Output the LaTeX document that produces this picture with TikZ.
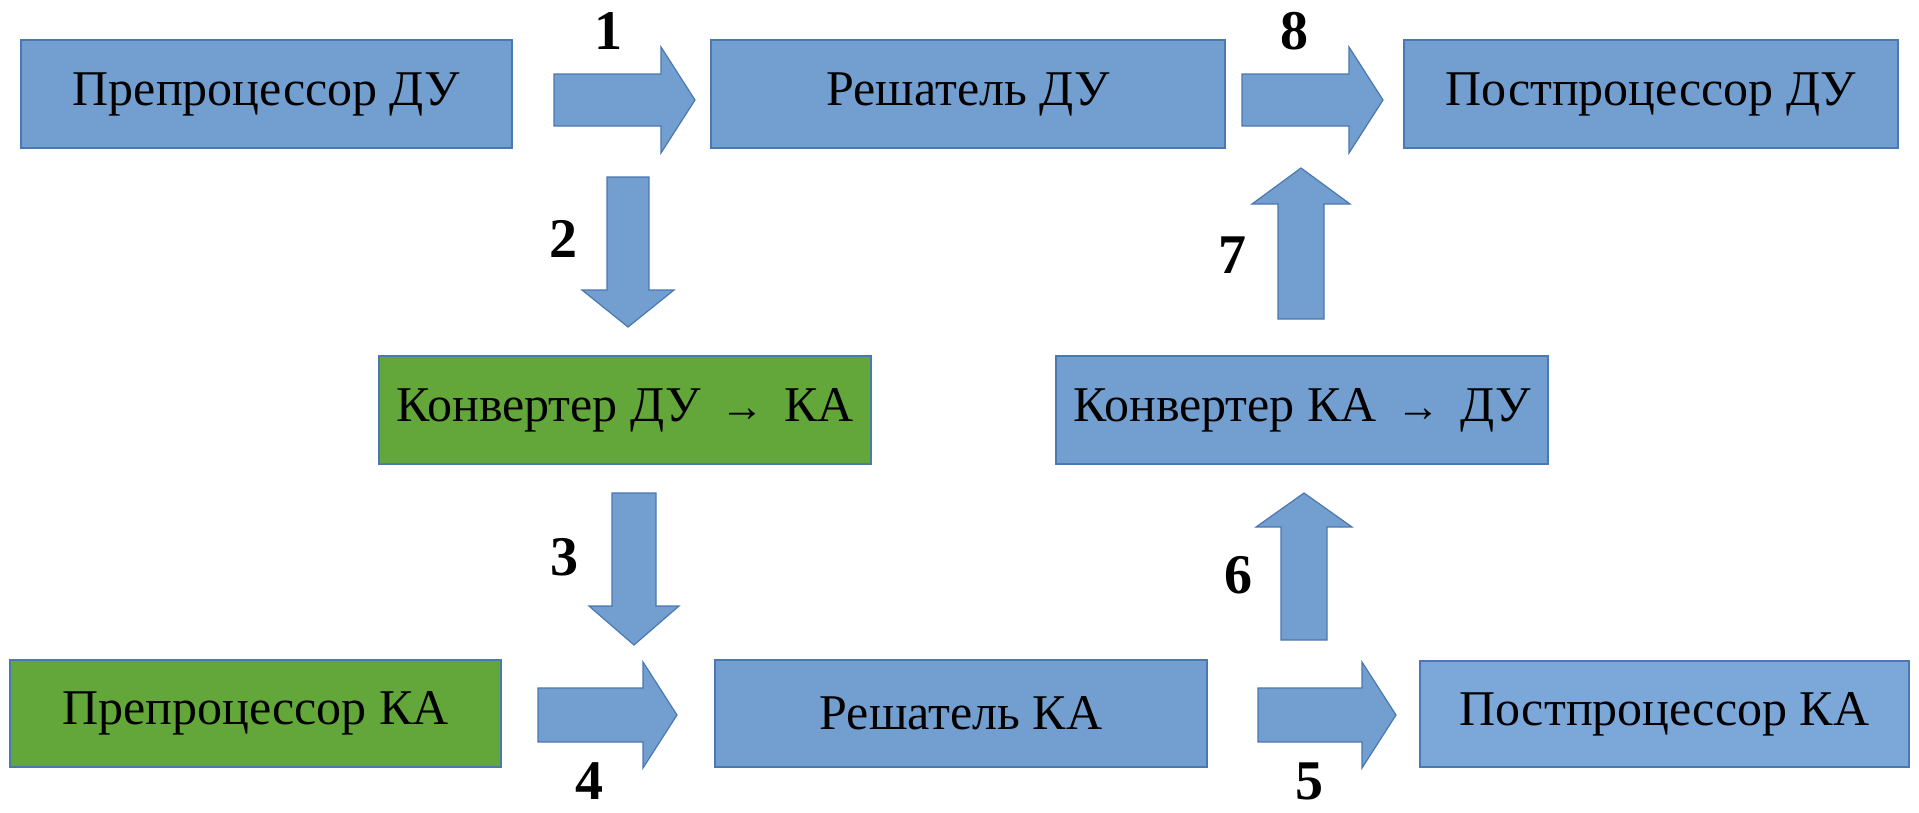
\documentclass[tikz,border=0pt]{standalone}
\usepackage{fontspec}
\setmainfont{Liberation Serif}
\definecolor{boxblue}{HTML}{729FCF}
\definecolor{boxblue2}{HTML}{7BA7D9}
\definecolor{boxgreen}{HTML}{63A73B}
\definecolor{edgeblue}{HTML}{4A78B0}
\tikzset{
  blk/.style={draw=edgeblue, line width=1.2pt, fill=boxblue, inner sep=0pt,
    font=\fontsize{50}{60}\selectfont, text=black},
  grn/.style={blk, fill=boxgreen},
  barrow/.style={draw=edgeblue, line width=1.2pt, fill=boxblue},
  num/.style={font=\fontsize{56}{64}\selectfont\bfseries, inner sep=0pt}
}
\newcommand\smallarr{{\fontsize{44}{50}\selectfont\,→\,}}
\newcommand\rarrow[6]{% x1 x2 yc s h L
  \draw[barrow] (#1,#3-#4) -- (#2-#6,#3-#4) -- (#2-#6,#3-#5) -- (#2,#3) -- (#2-#6,#3+#5) -- (#2-#6,#3+#4) -- (#1,#3+#4) -- cycle;}
\newcommand\varrow[6]{% xc ystart ytip s h L
  \draw[barrow] let \n1={ifthenelse(#3>#2,1,-1)} in
   (#1-#4,#2) -- (#1-#4,#3-\n1*#6) -- (#1-#5,#3-\n1*#6) -- (#1,#3) -- (#1+#5,#3-\n1*#6) -- (#1+#4,#3-\n1*#6) -- (#1+#4,#2) -- cycle;}
\usetikzlibrary{calc}
\begin{document}
\begin{tikzpicture}[x=1pt,y=-1pt]
\useasboundingbox (0,0) rectangle (1919,812);
% boxes
\node[blk, minimum width=491pt, minimum height=108pt] (ppdu) at (266.5,94) {Препроцессор ДУ};
\node[blk, minimum width=514pt, minimum height=108pt] (sdu) at (968,94) {Решатель ДУ};
\node[blk, minimum width=494pt, minimum height=108pt] (podu) at (1651,94) {Постпроцессор ДУ};
\node[grn, minimum width=492pt, minimum height=108pt] (cdk) at (625,410) {Конвертер ДУ \smallarr{} КА};
\node[blk, minimum width=492pt, minimum height=108pt] (ckd) at (1302,410) {Конвертер КА \smallarr{} ДУ};
\node[grn, minimum width=491pt, minimum height=107pt] (ppka) at (255.5,713.5) {Препроцессор КА};
\node[blk, minimum width=492pt, minimum height=107pt] (ska) at (961,713.5) {Решатель КА};
\node[blk, fill=boxblue2, minimum width=489pt, minimum height=106pt] (poka) at (1664.5,714) {Постпроцессор КА};
% block arrows
\rarrow{554}{695}{100}{26}{53}{34}
\rarrow{1242}{1383}{100}{26}{53}{34}
\rarrow{538}{677}{715}{27}{53}{34}
\rarrow{1258}{1396}{715}{27}{53}{34}
\varrow{628}{177}{327}{21}{46}{37}
\varrow{634}{493}{645}{22}{45}{39}
\varrow{1304}{640}{493}{23}{48}{34}
\varrow{1301}{319}{168}{23}{49}{36}
% labels
\node[num] (n1) at (608,31) {1};
\node[num] (n8) at (1294,31) {8};
\node[num] (n2) at (563,239) {2};
\node[num] (n3) at (564,557) {3};
\node[num] (n4) at (589,781) {4};
\node[num] (n5) at (1309,781) {5};
\node[num] (n6) at (1238,575) {6};
\node[num] (n7) at (1232,255) {7};
\end{tikzpicture}
\end{document}
